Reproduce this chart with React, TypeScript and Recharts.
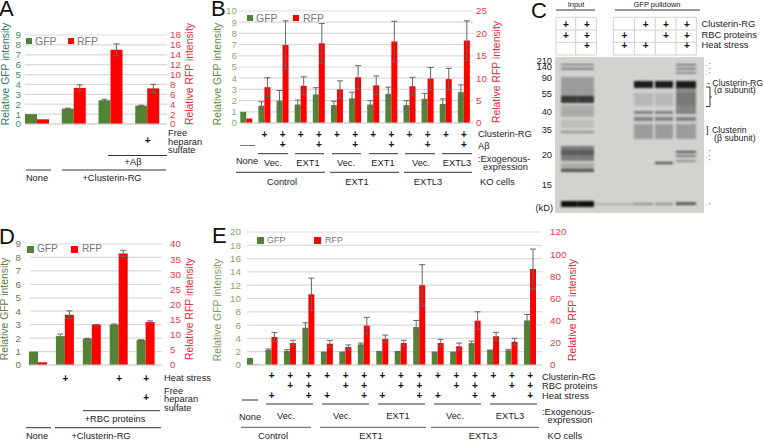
import React from 'react';
import { BarChart, Bar, XAxis, YAxis, CartesianGrid, ErrorBar, Legend, ComposedChart, ReferenceArea } from 'recharts';

const PAGE_W = 763;
const PAGE_H = 441;
const FONT = '"Liberation Sans", Arial, sans-serif';
const GREEN = '#548235';
const RED = '#ff0000';

// Panel A
const aGfp = [1, 1.55, 2.4, 1.85];
const aGfpErr = [0, 0.05, 0.1, 0.05];
const aRfp = [0.95, 7.3, 15, 7.2];
const aRfpErr = [0, 0.6, 1.2, 0.8];
const aFree = ['', '', '', '+'];
const aLeftTicks = [0, 1, 2, 3, 4, 5, 6, 7, 8, 9];
const aRightTicks = [0, 2, 4, 6, 8, 10, 12, 14, 16, 18];

// Panel B
const bGfp = [1, 1.55, 2, 1.65, 2.55, 1.6, 2.2, 1.65, 2.6, 1.6, 2.15, 1.7, 2.75];
const bGfpErr = [0, 0.35, 0.9, 0.4, 0.6, 0.35, 0.55, 0.35, 0.6, 0.4, 0.5, 0.45, 0.65];
const bRfp = [1, 8, 17.4, 8.3, 17.8, 7.5, 10.2, 8.4, 18.2, 8.2, 9.9, 9.8, 18.4];
const bRfpErr = [0, 2.1, 5.4, 2, 4.4, 1.9, 2.6, 2.1, 4.5, 2, 2.5, 2.4, 4.4];
const bClusterin = ['', '+', '+', '+', '+', '+', '+', '+', '+', '+', '+', '+', '+'];
const bAbeta = ['', '', '+', '', '+', '', '+', '', '+', '', '+', '', '+'];
const bLeftTicks = [0, 1, 2, 3, 4, 5, 6, 7, 8, 9, 10];
const bRightTicks = [0, 5, 10, 15, 20, 25];

// Panel D
const dGfp = [1, 2.15, 1.95, 3, 1.85];
const dGfpErr = [0, 0.15, 0.03, 0.05, 0.03];
const dRfp = [0.9, 16.6, 13.3, 36.9, 14.2];
const dRfpErr = [0, 1.3, 0.1, 1, 0.4];
const dHeat = ['', '+', '', '+', '+'];
const dFree = ['', '', '', '', '+'];
const dLeftTicks = [0, 1, 2, 3, 4, 5, 6, 7, 8, 9];
const dRightTicks = [0, 5, 10, 15, 20, 25, 30, 35, 40];

// Panel E
const eGfp = [0.95, 2.25, 2.1, 5.6, 1.9, 1.9, 3.1, 2, 2, 5.7, 1.9, 1.9, 3.3, 2.2, 2.2, 6.7];
const eGfpErr = [0.05, 0.15, 0.2, 0.75, 0.05, 0.05, 0.2, 0.05, 0.05, 1, 0.05, 0.05, 0.3, 0.05, 0.15, 0.9];
const eRfp = [0.4, 25.3, 19.8, 63.8, 19.2, 16.2, 35.5, 23.5, 19.8, 72, 19.8, 16.8, 40, 25.9, 21, 86.6];
const eRfpErr = [0, 3.9, 2.5, 14.5, 3, 1.9, 7.5, 3.5, 2.5, 18.5, 3.3, 3, 8, 3.6, 3, 18];
const eClusterin = ['', '+', '+', '+', '+', '+', '+', '+', '+', '+', '+', '+', '+', '+', '+', '+'];
const eRbc = ['', '', '+', '+', '', '+', '+', '', '+', '+', '', '+', '+', '', '+', '+'];
const eHeat = ['', '+', '', '+', '+', '', '+', '+', '', '+', '+', '', '+', '+', '', '+'];
const eLeftTicks = [0, 2, 4, 6, 8, 10, 12, 14, 16, 18, 20];
const eRightTicks = [0, 20, 40, 60, 80, 100, 120];

// Panel C gel, in gel units (lane x, migration y), each band: y, height, darkness
const gelInputLanes = [[6, 22.5], [22.5, 39]];
const gelInputBands = [
  [7, 1.5, 0.5], [11, 1.5, 0.6], [20, 20, 0.28], [39, 7, 0.8], [48, 12, 0.2], [63, 8, 0.1], [74, 2, 0.35],
  [89, 15, 0.45], [93, 5, 0.3], [106, 8, 0.2], [112, 3, 0.6], [144, 6, 1],
];
const gelPullLanes = [[79, 98], [100, 118], [121, 141]];
const gelPullBands = [
  [24, 7, 0.95], [36, 13, 0.13], [54, 3, 0.42], [60, 4, 0.42], [67, 15, 0.28], [146, 2, 0.35],
];
const gelLane3Bands = [
  [7, 1.5, 0.6], [11, 1.5, 0.6], [15, 1.5, 0.5], [30, 24, 0.38], [94, 2, 0.7], [98, 2, 0.5], [103, 2, 0.35], [145, 3, 0.5],
];
const gelLane2Bands = [[105, 2, 0.7]];
const gelFaint = [[146.5, 1.5, 0.25]];

const rowsOf = (gfp: number[], gfpErr: number[], rfp: number[], rfpErr: number[]) =>
  gfp.map((v, i) => ({ name: 'c' + i, gfp: v, gfpErr: gfpErr[i], rfp: rfp[i], rfpErr: rfpErr[i] }));

type PlusRow = { y: number; marks: string[] };

const DualBars = (p: any) => {
  const rows: PlusRow[] = p.plusRows;
  const tick = (t: any) => (
    <g>
      {rows.map((r, k) =>
        r.marks[t.index] ? (
          <text key={k} x={t.x} y={r.y} textAnchor="middle" dominantBaseline="central" fontSize={10} fontWeight="bold" fill="#111" fontFamily={FONT}>
            +
          </text>
        ) : null
      )}
    </g>
  );
  const legend = () => (
    <div style={{ position: 'relative', fontFamily: FONT, fontSize: p.legend.size, color: '#777', lineHeight: '10px', whiteSpace: 'nowrap' }}>
      <span style={{ position: 'absolute', left: 0, top: 2, width: p.legend.box, height: p.legend.box, background: GREEN }} />
      <span style={{ position: 'absolute', left: p.legend.text1, top: 0 }}>GFP</span>
      <span style={{ position: 'absolute', left: p.legend.box2, top: 2, width: p.legend.box, height: p.legend.box, background: RED }} />
      <span style={{ position: 'absolute', left: p.legend.text2, top: 0 }}>RFP</span>
    </div>
  );
  return (
    <div style={{ position: 'absolute', left: 0, top: 0, width: PAGE_W, height: PAGE_H }}>
      <BarChart
        width={PAGE_W}
        height={PAGE_H}
        data={p.data}
        barSize={p.barSize}
        barGap={0}
        margin={{ top: p.top, left: 0, right: 0, bottom: PAGE_H - p.bottom - 40 }}
      >
        <CartesianGrid yAxisId="left" vertical={false} stroke="#d9d9d9" strokeWidth={1.2} />
        <XAxis
          dataKey="name"
          height={40}
          interval={0}
          padding={{ left: p.padL, right: p.padR }}
          axisLine={{ stroke: '#d0d0d0' }}
          tickLine={false}
          tick={tick}
        />
        <YAxis
          yAxisId="left"
          width={p.left}
          domain={[0, p.leftTicks[p.leftTicks.length - 1]]}
          ticks={p.leftTicks}
          interval={0}
          axisLine={false}
          tickLine={false}
          tickSize={0}
          tickMargin={p.leftGap}
          tick={{ fill: p.leftTickColor, fontSize: 9.8, fontFamily: FONT }}
        />
        <YAxis
          yAxisId="right"
          orientation="right"
          width={PAGE_W - p.right}
          domain={[0, p.rightTicks[p.rightTicks.length - 1]]}
          ticks={p.rightTicks}
          interval={0}
          axisLine={false}
          tickLine={false}
          tickSize={0}
          tickMargin={p.rightGap}
          tick={{ fill: '#e23b44', fontSize: 9.8, fontFamily: FONT }}
        />
        <Legend
          layout="horizontal"
          align="center"
          verticalAlign="middle"
          content={legend}
          wrapperStyle={{ position: 'absolute', left: p.legend.x, top: p.legend.y, width: 90, height: 12 }}
        />
        <Bar yAxisId="left" dataKey="gfp" fill={GREEN} isAnimationActive={false}>
          <ErrorBar dataKey="gfpErr" width={3} stroke="#666" strokeWidth={1} isAnimationActive={false} />
        </Bar>
        <Bar yAxisId="right" dataKey="rfp" fill={RED} isAnimationActive={false}>
          <ErrorBar dataKey="rfpErr" width={3} stroke="#666" strokeWidth={1} isAnimationActive={false} />
        </Bar>
      </BarChart>
    </div>
  );
};

const Gel = () => {
  const band = (lane: number[], b: number[], key: string) => (
    <ReferenceArea
      key={key}
      x1={lane[0]}
      x2={lane[1]}
      y1={b[0]}
      y2={b[0] + b[1]}
      fill="#111"
      fillOpacity={b[2]}
      stroke="none"
      isFront
    />
  );
  return (
    <div style={{ position: 'absolute', left: 555, top: 57, width: 149, height: 156, background: '#d2d2cf', overflow: 'hidden' }}>
      <div style={{ filter: 'blur(1.3px)' }}>
        <ComposedChart width={149} height={156} data={[{ a: 0 }]} margin={{ top: 0, right: 0, bottom: 0, left: 0 }}>
          <XAxis type="number" dataKey="a" hide domain={[0, 149]} allowDataOverflow />
          <YAxis type="number" hide reversed domain={[0, 156]} width={0} allowDataOverflow />
          {gelInputLanes.flatMap((l, i) => gelInputBands.map((b, k) => band(l, b, `i${i}-${k}`)))}
          {gelPullLanes.flatMap((l, i) => gelPullBands.map((b, k) => band(l, b, `p${i}-${k}`)))}
          {gelLane3Bands.map((b, k) => band(gelPullLanes[2], b, `t${k}`))}
          {gelLane2Bands.map((b, k) => band(gelPullLanes[1], b, `s${k}`))}
          {gelFaint.map((b, k) => band([40, 79], b, `f${k}`))}
        </ComposedChart>
      </div>
    </div>
  );
};

// text helper for the annotation layer
const T = (p: any) => (
  <text
    x={p.x}
    y={p.y}
    fontSize={p.s ?? 9.3}
    fill={p.c ?? '#222'}
    fontWeight={p.w}
    textAnchor={p.a ?? 'start'}
    dominantBaseline="central"
    transform={p.rot ? `rotate(-90 ${p.x} ${p.y})` : undefined}
  >
    {p.children}
  </text>
);
const L = (p: any) => <line x1={p.a} x2={p.b} y1={p.y} y2={p.y} stroke={p.c ?? '#333'} strokeWidth={1} />;
const Title = (p: any) => (
  <T x={p.x} y={p.y} s={10.4} c={p.c} a="middle" rot>
    {p.children}
  </T>
);
const Plus = (p: any) => (
  <T x={p.x} y={p.y} s={10} w="bold" c="#111" a="middle">
    +
  </T>
);

const App = () => (
  <div style={{ position: 'absolute', left: 0, top: 0, width: PAGE_W, height: PAGE_H, background: '#fff', overflow: 'hidden' }}>
    <DualBars
      data={rowsOf(aGfp, aGfpErr, aRfp, aRfpErr)}
      left={25} right={167} top={35} bottom={124} padL={-6} padR={1} barSize={12}
      leftTicks={aLeftTicks} rightTicks={aRightTicks} leftGap={4} rightGap={3} leftTickColor="#3f8a6a"
      plusRows={[{ y: 140, marks: aFree }]}
      legend={{ x: 26, y: 36, size: 10.5, box: 6, text1: 9, box2: 42, text2: 51 }}
    />
    <DualBars
      data={rowsOf(bGfp, bGfpErr, bRfp, bRfpErr)}
      left={239} right={473} top={11} bottom={123} padL={-1.7} padR={0} barSize={6}
      leftTicks={bLeftTicks} rightTicks={bRightTicks} leftGap={2} rightGap={3} leftTickColor="#8aa870"
      plusRows={[{ y: 134, marks: bClusterin }, { y: 144, marks: bAbeta }]}
      legend={{ x: 247, y: 13, size: 10.5, box: 6, text1: 9, box2: 46, text2: 56 }}
    />
    <DualBars
      data={rowsOf(dGfp, dGfpErr, dRfp, dRfpErr)}
      left={30} right={162} top={244} bottom={365} padL={-5} padR={2.5} barSize={9}
      leftTicks={dLeftTicks} rightTicks={dRightTicks} leftGap={9} rightGap={8} leftTickColor="#5f7a4a"
      plusRows={[{ y: 378, marks: dHeat }, { y: 397, marks: dFree }]}
      legend={{ x: 27, y: 244, size: 10, box: 6.5, text1: 10, box2: 44, text2: 55 }}
    />
    <DualBars
      data={rowsOf(eGfp, eGfpErr, eRfp, eRfpErr)}
      left={247} right={542} top={232} bottom={365} padL={-3} padR={2.5} barSize={6}
      leftTicks={eLeftTicks} rightTicks={eRightTicks} leftGap={6} rightGap={8} leftTickColor="#86a66c"
      plusRows={[{ y: 375, marks: eClusterin }, { y: 385, marks: eRbc }, { y: 395, marks: eHeat }]}
      legend={{ x: 257, y: 235, size: 9, box: 6.5, text1: 10, box2: 57, text2: 68 }}
    />
    <Gel />
    <svg width={PAGE_W} height={PAGE_H} style={{ position: 'absolute', left: 0, top: 0, pointerEvents: 'none' }} fontFamily={FONT}>
      {/* panel letters */}
      <text x={-1} y={16} fontSize={22} fill="#111">A</text>
      <text x={211} y={16} fontSize={22} fill="#111">B</text>
      <text x={531} y={18} fontSize={22} fill="#111">C</text>
      <text x={-1} y={244} fontSize={22} fill="#111">D</text>
      <text x={212} y={243} fontSize={22} fill="#111">E</text>

      {/* A */}
      <Title x={5.5} y={74} c="#2e7d5b">Relative GFP intensity</Title>
      <Title x={189} y={74} c="#d9303a">Relative RFP intensity</Title>
      <T x={168} y={133}>Free</T>
      <T x={168} y={141.5}>heparan</T>
      <T x={168} y={150}>sulfate</T>
      <L a={108} b={167} y={155.5} />
      <T x={133} y={162} a="middle">+Aβ</T>
      <L a={26} b={51} y={170} />
      <L a={62} b={166} y={170} />
      <T x={37} y={178} a="middle">None</T>
      <T x={112} y={178} a="middle">+Clusterin-RG</T>

      {/* B */}
      <Title x={217} y={74} c="#5f8a3f">Relative GFP intensity</Title>
      <Title x={496} y={72} c="#d9303a">Relative RFP intensity</Title>
      <L a={240} b={255} y={145.5} c="#777" />
      <L a={258} b={288} y={153.7} />
      <L a={295} b={324} y={153.7} />
      <L a={332} b={361} y={153.7} />
      <L a={369} b={398} y={153.7} />
      <L a={405} b={435} y={153.7} />
      <L a={442} b={472} y={153.7} />
      <T x={247} y={161} a="middle">None</T>
      <T x={273} y={163} a="middle">Vec.</T>
      <T x={308} y={163} a="middle">EXT1</T>
      <T x={346} y={163} a="middle">Vec.</T>
      <T x={383} y={163} a="middle">EXT1</T>
      <T x={421} y={163} a="middle">Vec.</T>
      <T x={457} y={163} a="middle">EXTL3</T>
      <L a={236} b={325} y={172.3} />
      <L a={330} b={399} y={172.3} />
      <L a={404} b={472} y={172.3} />
      <T x={282} y={181.7} a="middle">Control</T>
      <T x={357} y={181.7} a="middle">EXT1</T>
      <T x={428} y={181.7} a="middle">EXTL3</T>
      <T x={478} y={134}>Clusterin-RG</T>
      <T x={478} y={146}>Aβ</T>
      <T x={478} y={158.5}>:Exogenous-</T>
      <T x={483} y={167}>expression</T>
      <T x={480} y={181.5}>KO cells</T>

      {/* C */}
      <T x={576} y={4} s={7.5} a="middle">Input</T>
      <L a={556} b={595} y={10} />
      <T x={657} y={4} s={7.5} a="middle">GFP pulldown</T>
      <L a={615} b={700} y={10} />
      {[17.3, 30, 42.3, 55].flatMap((y, i) => [
        <L key={'g1' + i} a={556} b={596} y={y} c="#d0d0d0" />,
        <L key={'g2' + i} a={613} b={696} y={y} c="#d0d0d0" />,
      ])}
      {[556, 575.7, 596.3, 613.3, 634.3, 655.3, 676, 696.3].map((x, i) => (
        <line key={i} x1={x} x2={x} y1={17.3} y2={55} stroke="#d0d0d0" />
      ))}
      {[566, 587, 645.7, 666, 687].map(x => <Plus key={x} x={x} y={24} />)}
      {[566, 587, 624.3, 666, 687].map(x => <Plus key={x} x={x} y={35} />)}
      {[587, 624.3, 645.7, 687].map(x => <Plus key={x} x={x} y={45.5} />)}
      <T x={701.5} y={24}>Clusterin-RG</T>
      <T x={701.5} y={35}>RBC proteins</T>
      <T x={701.5} y={45}>Heat stress</T>
      <T x={552} y={60.5} a="end">210</T>
      <T x={552} y={66.5} a="end">140</T>
      <T x={552} y={78} a="end">90</T>
      <T x={552} y={94} a="end">55</T>
      <T x={552} y={112} a="end">40</T>
      <T x={552} y={130} a="end">35</T>
      <T x={552} y={154.5} a="end">20</T>
      <T x={552} y={185} a="end">15</T>
      <T x={553} y={208} a="end">(kD)</T>
      <T x={707} y={82.7} s={8.8}>- Clusterin-RG</T>
      <T x={714} y={90} s={8.8}>(α subunit)</T>
      <path d="M706 87 H710 V106.5 H706" fill="none" stroke="#333" />
      <T x={706} y={130}>]</T>
      <T x={712} y={130} s={8.8}>Clusterin</T>
      <T x={714} y={137.5} s={8.8}>(β subunit)</T>
      {[64.5, 69, 73.5, 151.5, 156, 160.5, 204].map(y => (
        <T key={y} x={706} y={y} s={4.4}>- *</T>
      ))}
      <T x={710} y={98} s={5}>*</T>

      {/* D */}
      <Title x={4} y={309} c="#5f7a4a">Relative GFP intensity</Title>
      <Title x={189} y={309} c="#d9303a">Relative RFP intensity</Title>
      <T x={164} y={378}>Heat stress</T>
      <T x={164} y={390.7}>Free</T>
      <T x={164} y={399}>heparan</T>
      <T x={164} y={408}>sulfate</T>
      <L a={83} b={160} y={410.7} />
      <T x={115} y={419} a="middle">+RBC proteins</T>
      <L a={26} b={51} y={427.7} />
      <L a={55} b={161} y={427.7} />
      <T x={37} y={436} a="middle">None</T>
      <T x={101} y={436} a="middle">+Clusterin-RG</T>

      {/* E */}
      <Title x={217} y={310} c="#7a9a62">Relative GFP intensity</Title>
      <Title x={572} y={310} c="#d9303a">Relative RFP intensity</Title>
      <L a={242} b={258} y={400} />
      <L a={266} b={313} y={404} />
      <L a={322} b={369} y={404} />
      <L a={378} b={425} y={404} />
      <L a={434} b={481} y={404} />
      <L a={490} b={537} y={404} />
      <T x={250} y={416.5} a="middle">None</T>
      <T x={286} y={416} a="middle">Vec.</T>
      <T x={342} y={416} a="middle">Vec.</T>
      <T x={398} y={416} a="middle">EXT1</T>
      <T x={455} y={416} a="middle">Vec.</T>
      <T x={510} y={416} a="middle">EXTL3</T>
      <L a={241} b={311} y={427.3} c="#555" />
      <L a={320} b={426} y={427.3} c="#555" />
      <L a={431} b={539} y={427.3} c="#555" />
      <T x={273} y={436} a="middle">Control</T>
      <T x={371} y={436} a="middle">EXT1</T>
      <T x={483} y={436} a="middle">EXTL3</T>
      <T x={542} y={376.7}>Clusterin-RG</T>
      <T x={542} y={386.3}>RBC proteins</T>
      <T x={542} y={396}>Heat stress</T>
      <T x={542} y={411.5}>:Exogenous-</T>
      <T x={547.5} y={420}>expression</T>
      <T x={547.5} y={436}>KO cells</T>
    </svg>
  </div>
);

export default App;
